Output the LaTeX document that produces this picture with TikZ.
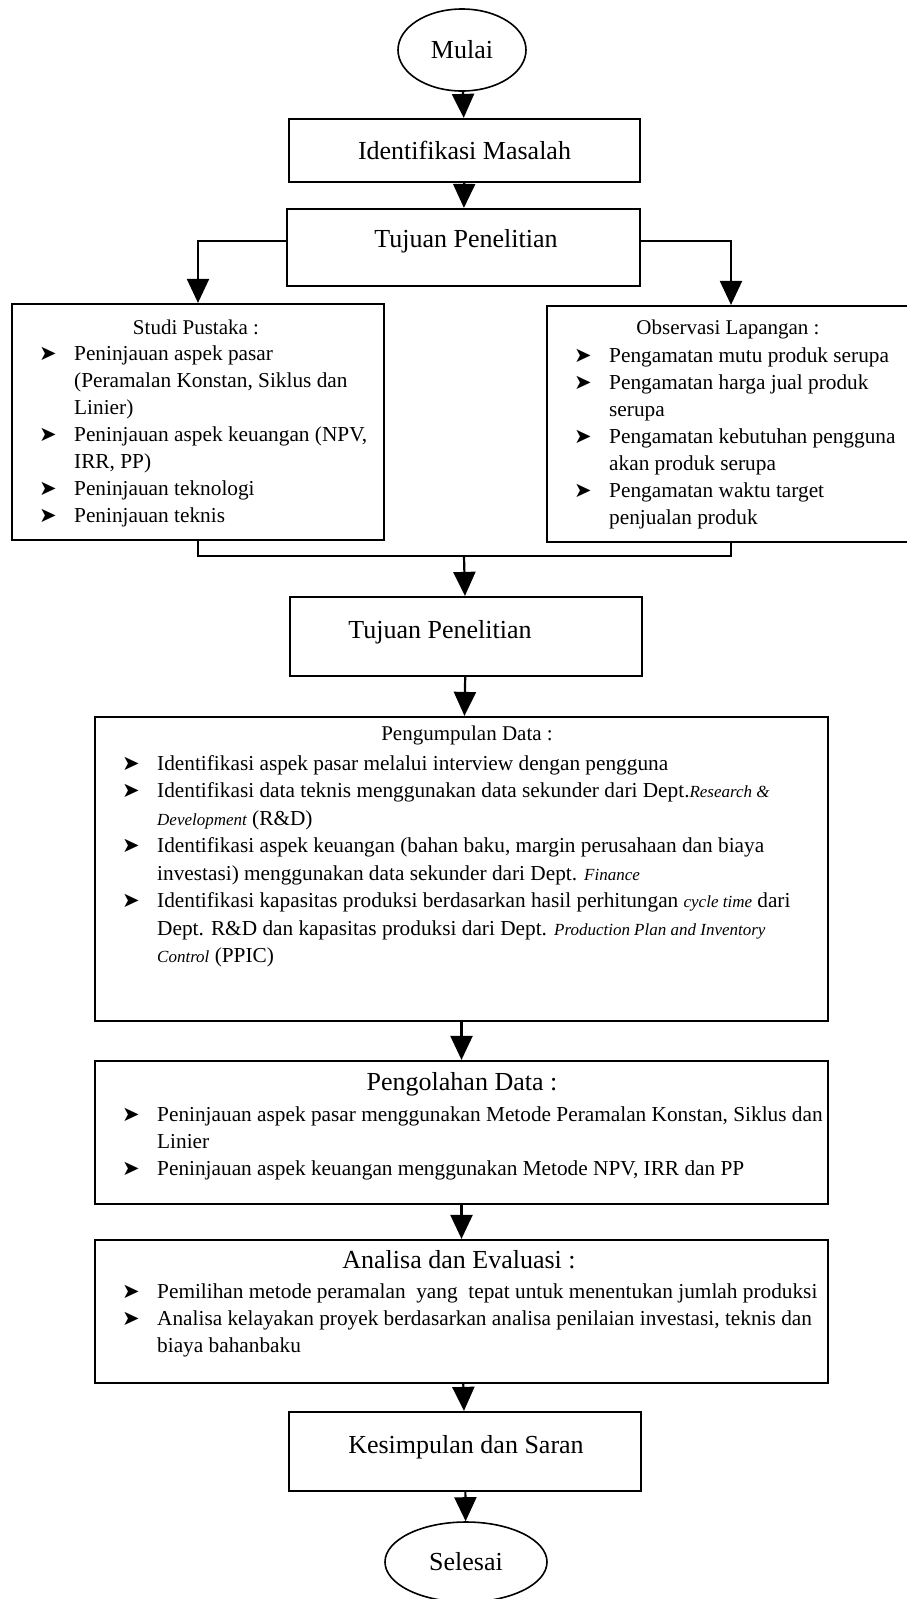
\documentclass[tikz,border=0pt]{standalone}
\usepackage{fontspec}
\setmainfont{Liberation Serif}
\newfontfamily\symfont{DejaVu Sans}
\usetikzlibrary{arrows.meta,shapes.geometric}
\newcommand{\bul}{\strut\makebox[35pt][l]{\symfont\fontsize{21}{21}\selectfont ➤}}
\newcommand{\ind}{\strut\hspace*{35pt}}
\newcommand{\sit}[1]{{\fontsize{17}{27}\selectfont\itshape #1}}
\tikzset{
  boxs/.style={draw, rectangle, line width=2.2pt, inner sep=0pt},
  ovals/.style={draw, ellipse, line width=1.6pt, inner sep=0pt},
  arr/.style={line width=2.2pt, -{Triangle[length=24pt,width=22pt]}},
  conn/.style={line width=2.2pt},
  big/.style={font=\fontsize{26}{31}\selectfont, inner sep=0pt},
  small/.style={font=\fontsize{21}{27}\selectfont, inner sep=0pt},
  listtext/.style={font=\fontsize{21.3}{27}\selectfont, inner sep=0pt, align=left, anchor=north west},
}
\begin{document}
\begin{tikzpicture}[x=1pt,y=-1pt]
\fill[white] (0,0) rectangle (907,1599);
\useasboundingbox (0,0) rectangle (907,1599);

% top
\node[ovals, big, minimum width=128pt, minimum height=82pt] (mulai) at (462,50) {Mulai};
\node[boxs, big, minimum width=351pt, minimum height=63pt] (idm) at (464.5,150.5) {Identifikasi Masalah};
\node[boxs, minimum width=353pt, minimum height=77pt] (tuj1) at (463.5,247.5) {};
\node[big, anchor=base] (tuj1t) at (466,247) {Tujuan Penelitian};

% studi pustaka
\node[boxs, minimum width=372pt, minimum height=236pt] (studi) at (198,422) {};
\node[small, anchor=base] (studih) at (196,334) {Studi Pustaka :};
\node[listtext] (studil) at (39,341) {\bul Peninjauan aspek pasar\\
\ind (Peramalan Konstan, Siklus dan\\
\ind Linier)\\
\bul Peninjauan aspek keuangan (NPV,\\
\ind IRR, PP)\\
\bul Peninjauan teknologi\\
\bul Peninjauan teknis};

% observasi
\node[boxs, minimum width=368pt, minimum height=236pt] (obs) at (731,424) {};
\node[small, anchor=base] (obsh) at (728,334) {Observasi Lapangan :};
\node[listtext] (obsl) at (574,343) {\bul Pengamatan mutu produk serupa\\
\bul Pengamatan harga jual produk\\
\ind serupa\\
\bul Pengamatan kebutuhan pengguna\\
\ind akan produk serupa\\
\bul Pengamatan waktu target\\
\ind penjualan produk};

% tujuan 2
\coordinate (mrg) at (464,556);
\node[boxs, minimum width=352pt, minimum height=79pt] (tuj2) at (466,636.5) {};
\node[big, anchor=base] (tuj2t) at (440,638) {Tujuan Penelitian};

% pengumpulan
\node[boxs, minimum width=733pt, minimum height=304pt] (pgm) at (461.5,869) {};
\node[small, anchor=base] (pgmh) at (467,740) {Pengumpulan Data :};
\node[listtext, font=\fontsize{21.3}{27.5}\selectfont] (pgml) at (122,751) {\bul Identifikasi aspek pasar melalui interview dengan pengguna\\
\bul Identifikasi data teknis menggunakan data sekunder dari Dept.\sit{Research \&}\\
\ind \sit{Development} (R\&D)\\
\bul Identifikasi aspek keuangan (bahan baku, margin perusahaan dan biaya\\
\ind investasi) menggunakan data sekunder dari Dept. \sit{Finance}\\
\bul Identifikasi kapasitas produksi berdasarkan hasil perhitungan \sit{cycle time} dari\\
\ind Dept. R\&D dan kapasitas produksi dari Dept. \sit{Production Plan and Inventory}\\
\ind \sit{Control} (PPIC)};

% pengolahan
\node[boxs, minimum width=733pt, minimum height=143pt] (pgo) at (461.5,1132.5) {};
\node[big, anchor=base] (pgoh) at (462,1090) {Pengolahan Data :};
\node[listtext] (pgol) at (122,1102) {\bul Peninjauan aspek pasar menggunakan Metode Peramalan Konstan, Siklus dan\\
\ind Linier\\
\bul Peninjauan aspek keuangan menggunakan Metode NPV, IRR dan PP};

% analisa
\node[boxs, minimum width=733pt, minimum height=143pt] (ana) at (461.5,1311.5) {};
\node[big, anchor=base] (anah) at (459,1268) {Analisa dan Evaluasi :};
\node[listtext] (anal) at (122,1279) {\bul Pemilihan metode peramalan\ \ yang\ \ tepat untuk menentukan jumlah produksi\\
\bul Analisa kelayakan proyek berdasarkan analisa penilaian investasi, teknis dan\\
\ind biaya bahanbaku};

% kesimpulan & selesai
\node[boxs, minimum width=352pt, minimum height=79pt] (kes) at (465,1451.5) {};
\node[big, anchor=base] (kest) at (466,1453) {Kesimpulan dan Saran};
\node[ovals, big, minimum width=162pt, minimum height=80pt] (sel) at (466,1562) {Selesai};

% connectors
\draw[arr] (mulai) -- (idm);
\draw[arr] (idm) -- (tuj1);
\draw[arr] ([yshift=6.5pt]tuj1.west) -| (studi.north);
\draw[arr] ([yshift=6.5pt]tuj1.east) -| (obs.north);
\draw[conn] (studi.south) |- (mrg) -| (obs.south);
\draw[arr] (mrg) -- (tuj2);
\draw[arr] (tuj2) -- (pgm);
\draw[arr] (pgm) -- (pgo);
\draw[arr] (pgo) -- (ana);
\draw[arr] (ana) -- (kes);
\draw[arr] (kes) -- (sel);
\end{tikzpicture}
\end{document}
